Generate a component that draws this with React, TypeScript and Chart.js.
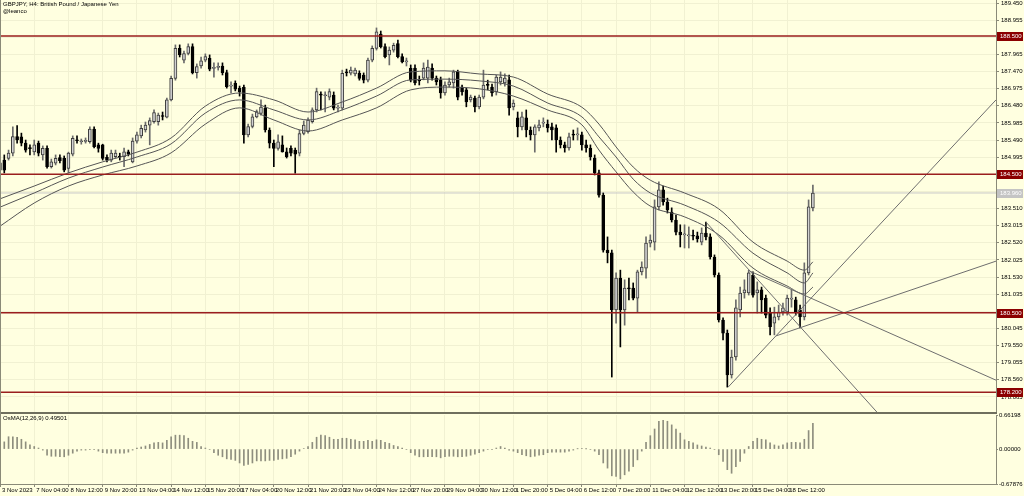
import React, { useEffect, useRef } from "react";
import { Chart, registerables } from "chart.js";

Chart.register(...registerables);

// ---------------- data ----------------
const TITLE = "GBPJPY, H4:  British Pound / Japanese Yen";
const SUBTITLE = "@leanco";
const OSMA_LABEL = "OsMA(12,26,9) 0.49501";

const TIME_LABELS = [
  "3 Nov 2023", "7 Nov 04:00", "8 Nov 12:00", "9 Nov 20:00", "13 Nov 04:00", "14 Nov 12:00",
  "15 Nov 20:00", "17 Nov 04:00", "20 Nov 12:00", "21 Nov 20:00", "23 Nov 04:00", "24 Nov 12:00",
  "27 Nov 20:00", "29 Nov 04:00", "30 Nov 12:00", "1 Dec 20:00", "5 Dec 04:00", "6 Dec 12:00",
  "7 Dec 20:00", "11 Dec 04:00", "12 Dec 12:00", "13 Dec 20:00", "15 Dec 04:00", "18 Dec 12:00",
];
const BARS_PER_LABEL = 8;

const PRICE_TICKS = [
  189.45, 188.955, 188.46, 187.965, 187.47, 186.975, 186.48, 185.985, 185.49, 184.995, 184.5, 184.005,
  183.51, 183.015, 182.52, 182.025, 181.53, 181.035, 180.54, 180.045, 179.55, 179.055, 178.56, 178.065,
];
const OSMA_TICKS = [0.66198, 0.0, -0.67876];

const OPEN = [
  184.62, 184.91, 184.96, 185.11, 185.59, 185.58, 185.40, 185.25, 185.15, 185.40,
  185.06, 185.25, 184.72, 184.82, 184.98, 184.96, 184.67, 185.08, 185.49, 185.44,
  185.45, 185.44, 185.81, 185.35, 185.35, 184.99, 184.91, 185.01, 185.01, 185.01,
  185.15, 184.86, 185.46, 185.61, 185.78, 185.92, 186.02, 186.02, 186.18, 186.15,
  186.65, 187.27, 188.14, 187.80, 187.99, 188.19, 187.44, 187.63, 187.80, 187.85,
  187.56, 187.59, 187.63, 187.44, 187.05, 187.13, 186.99, 187.01, 185.64, 185.88,
  186.16, 186.26, 186.41, 185.78, 185.40, 185.25, 185.35, 185.15, 185.25, 185.20,
  185.11, 185.68, 185.73, 186.02, 186.36, 186.80, 186.77, 186.73, 186.79, 186.41,
  186.41, 187.44, 187.42, 187.40, 187.42, 187.37, 187.22, 187.80, 188.14, 188.55,
  188.19, 187.95, 188.09, 188.28, 187.90, 187.75, 187.56, 187.57, 187.22, 187.28,
  187.28, 187.57, 187.28, 187.23, 186.85, 187.08, 187.14, 187.46, 187.02, 186.94,
  186.65, 186.70, 186.45, 186.73, 187.08, 187.02, 186.88, 187.17, 187.14, 187.23,
  186.45, 186.13, 185.87, 186.13, 185.78, 185.64, 185.84, 185.98, 185.95, 185.87,
  185.84, 185.49, 185.35, 185.26, 185.64, 185.64, 185.64, 185.35, 185.26, 184.97,
  184.54, 183.90, 182.31, 182.23, 180.58, 181.50, 180.58, 181.21, 181.21, 180.92,
  181.68, 181.79, 182.51, 182.54, 183.56, 184.05, 183.70, 183.41, 183.18, 182.83,
  182.75, 182.72, 182.72, 182.72, 182.54, 182.80, 182.69, 182.11, 181.59, 180.29,
  179.91, 178.70, 179.22, 180.58, 181.07, 181.07, 181.59, 181.07, 181.16, 180.92,
  180.49, 180.20, 180.38, 180.52, 180.52, 180.89, 180.87, 180.58, 180.38, 181.65,
  183.53,
];
const HIGH = [
  184.91, 185.06, 185.20, 185.87, 185.91, 185.69, 185.49, 185.35, 185.49, 185.46,
  185.32, 185.32, 184.94, 185.06, 185.06, 185.03, 185.14, 185.61, 185.61, 185.52,
  185.55, 185.87, 185.87, 185.40, 185.37, 185.06, 185.20, 185.20, 185.11, 185.26,
  185.20, 185.55, 185.72, 185.92, 186.01, 186.13, 186.36, 186.27, 186.30, 186.70,
  187.34, 188.24, 188.24, 188.06, 188.27, 188.27, 187.69, 187.89, 187.98, 187.95,
  187.72, 187.72, 187.72, 187.51, 187.17, 187.20, 187.05, 187.08, 185.95, 186.24,
  186.36, 186.65, 186.50, 185.84, 185.49, 185.64, 185.61, 185.26, 185.32, 185.26,
  185.78, 186.04, 186.13, 186.42, 186.99, 186.88, 186.88, 186.97, 186.88, 186.50,
  187.51, 187.54, 187.60, 187.57, 187.49, 187.43, 187.86, 188.21, 188.73, 188.64,
  188.27, 188.18, 188.29, 188.38, 187.98, 187.86, 187.66, 187.66, 187.34, 187.72,
  187.80, 187.69, 187.34, 187.31, 187.17, 187.28, 187.51, 187.51, 187.08, 186.99,
  186.79, 186.76, 186.79, 187.51, 187.22, 187.11, 187.37, 187.46, 187.40, 187.37,
  186.65, 186.30, 186.30, 186.36, 185.87, 185.93, 186.07, 186.13, 186.07, 185.98,
  185.93, 185.58, 185.43, 185.69, 185.78, 185.84, 185.72, 185.49, 185.35, 185.06,
  184.62, 183.96, 182.69, 182.31, 181.65, 181.73, 181.45, 181.50, 181.36, 181.73,
  181.97, 182.69, 182.75, 183.76, 184.28, 184.16, 183.81, 183.53, 183.32, 183.04,
  183.04, 182.98, 182.89, 182.83, 182.95, 183.12, 182.78, 182.17, 181.65, 180.35,
  180.00, 179.42, 180.87, 181.24, 181.45, 181.73, 181.68, 181.39, 181.24, 181.01,
  180.64, 180.66, 180.72, 180.78, 181.01, 181.16, 180.95, 180.72, 181.94, 183.76,
  184.19,
];
const LOW = [
  184.57, 184.54, 184.91, 185.03, 185.40, 185.32, 185.14, 185.06, 185.06, 185.03,
  184.91, 184.68, 184.68, 184.77, 184.83, 184.57, 184.54, 185.03, 185.40, 185.37,
  185.40, 185.40, 185.26, 185.14, 184.91, 184.86, 184.86, 184.97, 184.91, 184.72,
  185.03, 184.83, 185.40, 185.55, 185.72, 185.35, 185.98, 185.92, 186.07, 186.13,
  186.62, 187.22, 187.89, 187.72, 187.95, 187.40, 187.28, 187.57, 187.75, 187.49,
  187.31, 187.51, 187.37, 186.99, 186.85, 186.91, 186.76, 185.40, 185.58, 185.84,
  186.13, 186.21, 185.72, 185.26, 184.72, 185.20, 185.14, 184.97, 185.03, 184.53,
  185.03, 185.64, 185.69, 185.98, 186.30, 186.36, 186.30, 186.65, 186.36, 186.30,
  186.36, 187.34, 187.37, 187.34, 187.22, 187.14, 187.17, 187.75, 188.09, 188.15,
  187.86, 187.66, 188.03, 187.86, 187.72, 187.63, 187.17, 187.08, 187.08, 187.23,
  187.14, 187.22, 187.08, 186.70, 186.79, 187.02, 186.99, 186.65, 186.79, 186.45,
  186.59, 186.30, 186.39, 186.68, 186.94, 186.76, 186.79, 187.08, 187.05, 186.21,
  186.36, 185.58, 185.78, 185.58, 185.49, 185.14, 185.75, 185.87, 185.72, 185.49,
  185.14, 185.26, 185.14, 185.20, 185.49, 185.49, 185.20, 185.14, 184.91, 184.48,
  183.84, 182.25, 181.94, 178.64, 180.20, 179.51, 180.14, 180.87, 180.87, 180.52,
  181.59, 181.50, 182.40, 182.31, 183.47, 183.61, 183.38, 183.12, 182.75, 182.40,
  182.37, 182.37, 182.60, 182.54, 182.46, 182.60, 182.05, 181.53, 180.23, 179.71,
  178.35, 178.61, 179.13, 180.38, 180.92, 181.01, 180.95, 180.49, 180.49, 180.35,
  179.86, 179.86, 180.29, 180.43, 180.43, 180.66, 180.43, 180.06, 180.29, 181.59,
  183.44,
];
const CLOSE = [
  184.83, 184.62, 185.11, 185.59, 185.49, 185.40, 185.20, 185.24, 185.35, 185.11,
  185.25, 184.72, 184.86, 184.96, 184.89, 184.62, 185.11, 185.54, 185.47, 185.44,
  185.48, 185.81, 185.30, 185.25, 184.96, 184.91, 185.11, 185.11, 185.00, 185.15,
  185.08, 185.46, 185.64, 185.83, 185.92, 186.05, 186.28, 186.21, 186.17, 186.65,
  187.27, 188.14, 187.95, 187.99, 188.19, 187.44, 187.61, 187.78, 187.90, 187.54,
  187.57, 187.60, 187.44, 187.03, 187.05, 186.96, 186.89, 185.64, 185.88, 186.16,
  186.31, 186.44, 185.78, 185.40, 185.25, 185.44, 185.15, 185.01, 185.11, 185.08,
  185.68, 185.92, 186.07, 186.36, 186.89, 186.79, 186.79, 186.89, 186.41, 186.42,
  187.42, 187.43, 187.51, 187.51, 187.27, 187.22, 187.80, 188.14, 188.62, 188.19,
  187.90, 188.09, 188.23, 187.90, 187.75, 187.76, 187.22, 187.14, 187.20, 187.57,
  187.60, 187.28, 187.17, 186.85, 187.08, 187.17, 187.46, 186.73, 186.88, 186.59,
  186.73, 186.45, 186.73, 187.08, 187.07, 186.85, 187.31, 187.31, 187.28, 186.42,
  186.56, 185.87, 186.16, 185.78, 185.64, 185.87, 185.93, 185.99, 185.84, 185.78,
  185.49, 185.35, 185.26, 185.58, 185.63, 185.66, 185.35, 185.26, 185.00, 184.54,
  183.90, 182.31, 182.23, 180.58, 181.50, 180.58, 181.21, 181.19, 180.92, 181.68,
  181.82, 182.51, 182.60, 183.56, 184.05, 183.70, 183.47, 183.18, 182.83, 182.75,
  182.77, 182.75, 182.71, 182.63, 182.80, 182.69, 182.11, 181.59, 180.29, 179.91,
  178.70, 179.22, 180.64, 181.07, 181.16, 181.65, 181.01, 181.16, 180.87, 180.43,
  180.09, 180.38, 180.52, 180.64, 180.92, 180.92, 180.52, 180.38, 181.65, 183.56,
  183.96,
];

const OSMA = [
  0.10, 0.14, 0.24, 0.24, 0.23, 0.19, 0.14, 0.08, 0.05, 0.02,
  -0.02, -0.12, -0.14, -0.14, -0.15, -0.15, -0.12, -0.08, -0.04, -0.02,
  -0.02, -0.01, -0.01, -0.04, -0.07, -0.08, -0.08, -0.08, -0.08, -0.08,
  -0.06, -0.02, 0.02, 0.04, 0.06, 0.09, 0.12, 0.13, 0.12, 0.17,
  0.24, 0.27, 0.27, 0.26, 0.21, 0.15, 0.13, 0.05, 0.02, -0.01,
  -0.07, -0.12, -0.15, -0.19, -0.20, -0.22, -0.27, -0.32, -0.30, -0.27,
  -0.23, -0.23, -0.23, -0.22, -0.22, -0.20, -0.19, -0.18, -0.15, -0.10,
  -0.04, 0.01, 0.05, 0.13, 0.23, 0.27, 0.26, 0.23, 0.19, 0.19,
  0.21, 0.21, 0.19, 0.18, 0.15, 0.15, 0.17, 0.15, 0.18, 0.17,
  0.13, 0.11, 0.07, 0.05, 0.02, -0.01, -0.07, -0.12, -0.15, -0.15,
  -0.15, -0.15, -0.15, -0.17, -0.15, -0.14, -0.14, -0.15, -0.15, -0.14,
  -0.12, -0.10, -0.07, -0.04, -0.01, -0.01, 0.02, 0.05, 0.02, -0.02,
  -0.04, -0.07, -0.11, -0.13, -0.15, -0.14, -0.12, -0.11, -0.07, -0.06,
  -0.06, -0.06, -0.06, -0.04, -0.02, 0.005, 0.01, 0.005, -0.01, -0.04,
  -0.11, -0.27, -0.37, -0.52, -0.53, -0.58, -0.50, -0.43, -0.34, -0.21,
  -0.04, 0.13, 0.26, 0.39, 0.54, 0.56, 0.54, 0.47, 0.39, 0.31,
  0.18, 0.15, 0.12, 0.08, 0.06, 0.04, 0.02, -0.01, -0.11, -0.24,
  -0.40, -0.47, -0.34, -0.24, -0.08, 0.05, 0.15, 0.21, 0.19, 0.18,
  0.12, 0.08, 0.06, 0.08, 0.12, 0.13, 0.13, 0.12, 0.19, 0.36,
  0.50,
];

const MA_BARS = [0, 8, 16, 24, 32, 40, 48, 56, 64, 72, 80, 88, 96, 104, 112, 120, 128, 136, 140, 144, 148, 152, 160, 168, 176, 184, 188, 190];
const MA_UPPER = [183.79, 184.16, 184.54, 184.86, 185.14, 185.55, 186.47, 186.85, 186.65, 186.30, 186.59, 186.99, 187.46, 187.49, 187.40, 187.31, 186.82, 186.44, 185.95, 185.29, 184.71, 184.33, 183.96, 183.50, 182.54, 181.99, 181.73, 181.97];
const MA_MID = [183.55, 183.96, 184.39, 184.71, 185.00, 185.38, 186.27, 186.65, 186.36, 186.07, 186.36, 186.76, 187.23, 187.25, 187.20, 187.05, 186.56, 186.16, 185.58, 185.00, 184.36, 183.96, 183.61, 183.12, 182.22, 181.65, 181.36, 181.65];
const MA_LOWER = [183.00, 183.67, 184.16, 184.48, 184.74, 185.12, 185.95, 186.42, 186.07, 185.75, 186.07, 186.42, 186.94, 187.02, 186.97, 186.76, 186.36, 185.93, 185.20, 184.57, 183.99, 183.58, 183.27, 182.75, 181.79, 181.27, 181.04, 181.24];

const LEVELS = [188.5, 184.5, 180.5, 178.2];

// trend lines: [bar, price] start and end
const TREND_A = [[170.2, 178.35], [232.8, 186.65]];
const TREND_B = [[181.4, 179.83], [232.8, 181.99]];
const TREND_C = [[175.3, 181.70], [232.8, 178.55]];
const TREND_D = [[165.0, 183.12], [210.4, 176.88]];
const TRENDS = [TREND_A, TREND_B, TREND_C, TREND_D];

// ---------------- view settings ----------------
const X_MIN = 0;
const X_MAX = 232.8;
const Y_MAX = 189.537;
const Y_MIN = 177.63;
const OSMA_MIN = -0.67876;
const OSMA_MAX = 0.66198;

const BG = "#ffffe0";
const GRID = "#f1f1d2";
const AXIS = "#8a8a78";
const FONT = "'Liberation Sans', Arial, sans-serif";
const FONT_SIZE = 6;

const timeTicks = () => TIME_LABELS.map((_, k) => ({ value: k * BARS_PER_LABEL }));

export default function App() {
  const mainRef = useRef<HTMLCanvasElement | null>(null);
  const oscRef = useRef<HTMLCanvasElement | null>(null);

  useEffect(() => {
    const idx = OPEN.map((_, i) => i);
    const isBull = (i: number) => CLOSE[i] >= OPEN[i];
    const last = CLOSE[CLOSE.length - 1];

    const lineDs = (pts: { x: number; y: number }[], color: string, width: number, order: number, extra: any = {}) => ({
      type: "line",
      data: pts,
      borderColor: color,
      borderWidth: width,
      pointRadius: 0,
      fill: false,
      order,
      ...extra,
    });

    const datasets: any[] = [];
    datasets.push(lineDs([{ x: X_MIN - 5, y: last }, { x: X_MAX + 5, y: last }], "#c8c8c8", 1, 20));
    datasets.push({
      type: "bar",
      data: idx.map((i) => ({ x: i, y: [LOW[i], HIGH[i]] })),
      backgroundColor: idx.map((i) => (isBull(i) ? "#6a6a6a" : "#000000")),
      barThickness: 1,
      grouped: false,
      order: 15,
    });
    datasets.push({
      type: "bar",
      data: idx.map((i) => ({ x: i, y: [OPEN[i], CLOSE[i]] })),
      backgroundColor: idx.map((i) => (isBull(i) ? "#d2d2d2" : "#000000")),
      borderColor: idx.map((i) => (isBull(i) ? "#3c3c3c" : "#000000")),
      borderWidth: 1,
      borderSkipped: false,
      minBarLength: 1,
      barThickness: 3,
      grouped: false,
      order: 14,
    });
    [MA_UPPER, MA_MID, MA_LOWER].forEach((arr) => {
      datasets.push(
        lineDs(MA_BARS.map((b, k) => ({ x: b, y: arr[k] })), "#555555", 1, 10, { cubicInterpolationMode: "monotone" })
      );
    });
    TRENDS.forEach((t) => {
      datasets.push(lineDs(t.map(([b, p]) => ({ x: b, y: p })), "#6e6e6e", 1, 5));
    });
    LEVELS.forEach((v) => {
      datasets.push(lineDs([{ x: X_MIN - 5, y: v }, { x: X_MAX + 5, y: v }], "#9a1e1e", 1.5, 1));
    });

    const tagPlugin = {
      id: "tags",
      afterDraw(chart: any) {
        const ys = chart.scales.y;
        const ctx = chart.ctx;
        const x0 = chart.chartArea.right + 1;
        ctx.save();
        ctx.font = `${FONT_SIZE}px ${FONT}`;
        ctx.textBaseline = "middle";
        ctx.textAlign = "left";
        const tag = (v: number, bg: string, fg: string) => {
          const y = ys.getPixelForValue(v);
          ctx.fillStyle = bg;
          ctx.fillRect(x0, Math.round(y) - 4, 26, 9);
          ctx.fillStyle = fg;
          ctx.fillText(v.toFixed(3), x0 + 3, Math.round(y) + 0.5);
        };
        tag(last, "#c4c4c4", "#ffffff");
        LEVELS.forEach((v) => tag(v, "#8b0000", "#ffffff"));
        ctx.restore();
      },
    };

    const mainChart = new Chart(mainRef.current as HTMLCanvasElement, {
      type: "bar",
      data: { datasets },
      options: {
        animation: false,
        responsive: false,
        maintainAspectRatio: false,
        events: [],
        layout: { padding: 0 },
        plugins: { legend: { display: false }, tooltip: { enabled: false } },
        scales: {
          x: {
            type: "linear",
            offset: false,
            min: X_MIN,
            max: X_MAX,
            grid: { color: GRID, drawTicks: false, offset: false },
            border: { display: false },
            ticks: { display: false },
            afterBuildTicks: (s: any) => {
              s.ticks = timeTicks();
            },
            afterFit: (s: any) => {
              s.height = 0;
              s.paddingLeft = 0;
              s.paddingRight = 0;
            },
          },
          y: {
            type: "linear",
            position: "right",
            min: Y_MIN,
            max: Y_MAX,
            grid: { color: GRID, tickColor: AXIS, tickLength: 3 },
            border: { color: AXIS },
            ticks: {
              color: "#000000",
              padding: 2,
              font: { family: FONT, size: FONT_SIZE },
              callback: (v: any) => Number(v).toFixed(3),
            },
            afterBuildTicks: (s: any) => {
              s.ticks = PRICE_TICKS.map((v) => ({ value: v }));
            },
            afterFit: (s: any) => {
              s.width = 28;
              s.paddingTop = 0;
              s.paddingBottom = 0;
            },
          },
        },
      } as any,
      plugins: [tagPlugin],
    } as any);

    const oscChart = new Chart(oscRef.current as HTMLCanvasElement, {
      type: "bar",
      data: {
        datasets: [
          {
            data: idx.map((i) => ({ x: i, y: OSMA[i] })),
            backgroundColor: "#8e8e7e",
            barThickness: 1,
            grouped: false,
          },
        ],
      },
      options: {
        animation: false,
        responsive: false,
        maintainAspectRatio: false,
        events: [],
        layout: { padding: { top: 3, left: 0, right: 0, bottom: 0 } },
        plugins: { legend: { display: false }, tooltip: { enabled: false } },
        scales: {
          x: {
            type: "linear",
            offset: false,
            min: X_MIN,
            max: X_MAX,
            grid: { color: GRID, tickColor: AXIS, tickLength: 3, offset: false },
            border: { color: AXIS },
            ticks: {
              color: "#000000",
              align: "start",
              padding: 0,
              labelOffset: 2,
              autoSkip: false,
              maxRotation: 0,
              minRotation: 0,
              font: { family: FONT, size: FONT_SIZE },
              callback: (v: any) => {
                const k = Math.round(Number(v) / BARS_PER_LABEL);
                return TIME_LABELS[k] ?? "";
              },
            },
            afterBuildTicks: (s: any) => {
              s.ticks = timeTicks();
            },
            afterFit: (s: any) => {
              s.height = 12;
              s.paddingLeft = 0;
              s.paddingRight = 0;
            },
          },
          y: {
            type: "linear",
            position: "right",
            min: OSMA_MIN,
            max: OSMA_MAX,
            grid: { drawOnChartArea: false, color: AXIS, tickColor: AXIS, tickLength: 2 },
            border: { color: AXIS },
            ticks: {
              color: "#000000",
              padding: 1,
              font: { family: FONT, size: FONT_SIZE },
              callback: (v: any) => Number(v).toFixed(5),
            },
            afterBuildTicks: (s: any) => {
              s.ticks = OSMA_TICKS.map((v) => ({ value: v }));
            },
            afterFit: (s: any) => {
              s.width = 28;
              s.paddingTop = 0;
              s.paddingBottom = 0;
            },
          },
        },
      } as any,
    } as any);

    return () => {
      mainChart.destroy();
      oscChart.destroy();
    };
  }, []);

  const textStyle: React.CSSProperties = {
    position: "absolute",
    left: 3,
    fontFamily: FONT,
    fontSize: FONT_SIZE,
    lineHeight: "7px",
    color: "#000000",
    whiteSpace: "nowrap",
  };

  return (
    <div
      style={{
        position: "fixed",
        left: 0,
        top: 0,
        width: 1024,
        height: 496,
        background: BG,
        overflow: "hidden",
      }}
    >
      <canvas
        ref={mainRef}
        width={1024}
        height={412}
        style={{ position: "absolute", left: 0, top: 0, width: 1024, height: 412 }}
      />
      <canvas
        ref={oscRef}
        width={1024}
        height={84}
        style={{ position: "absolute", left: 0, top: 412, width: 1024, height: 84 }}
      />
      <div style={{ position: "absolute", left: 0, top: 412, width: 997, height: 2, background: "#6f6f5e" }} />
      <div style={{ position: "absolute", left: 0, top: 0, width: 1, height: 485, background: AXIS }} />
      <div style={{ ...textStyle, top: 1 }}>{TITLE}</div>
      <div style={{ ...textStyle, top: 8 }}>{SUBTITLE}</div>
      <div style={{ ...textStyle, top: 415 }}>{OSMA_LABEL}</div>
    </div>
  );
}
